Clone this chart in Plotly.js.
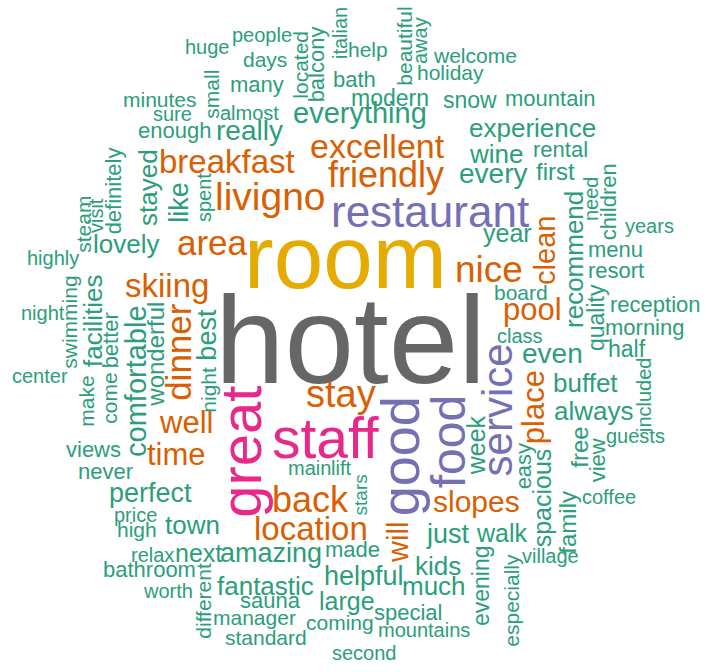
<!DOCTYPE html>
<html>
<head>
<meta charset="utf-8">
<script src="https://cdn.plot.ly/plotly-3.0.1.min.js"></script>
<style>html,body{margin:0;padding:0;background:#fff;}#chart{width:708px;height:672px;}</style>
</head>
<body>
<div id="chart"></div>
<script>
// Horizontal words: word, weight (font px), anchor x (centre), anchor y (baseline), colour group
var hWords   = ["hotel","room","restaurant","staff","stay","excellent","breakfast","friendly","livigno","area","nice","skiing","pool","well","time","back","location","slopes","everything","really","experience","wine","rental","every","first","year","years","menu","resort","board","reception","morning","class","half","even","buffet","always","guests","coffee","village","walk","just","kids","much","helpful","made","amazing","fantastic","large","sauna","special","manager","coming","mountains","standard","second","main","lift","perfect","price","high","town","relax","next","bathroom","worth","views","never","center","night","highly","lovely","huge","people","days","many","help","welcome","holiday","bath","modern","snow","mountain","minutes","sure","almost","enough"];
var hWeights = [125,89,44,57,38,34,33,36,39,35,37,33,31,31,31,36,33,30,29,28,26,26,22,28,24,25,20,22,22,21,22,22,20,23,28,26,26,20,20,20,25,27,26,26,27,22,27,26,25,22,22,21,21,20,21,20,20,20,27,20,21,26,20,25,22,20,22,22,20,20,20,26,20,20,21,22,21,21,21,22,23,23,22,21,20,20,22];
var hX       = [350,345,430,325,341,377,227,386,270,212,489,167,532,186,176,310,311,476,360,249,532,496,560,493,555,507,649,615,616,521,655,644,520,627,552,585,593,635,609,550,502,448,438,434,364,352,271,265,347,270,408,254,340,424,266,364,309,341,150,135,137,192,152,198,149,168,93,105,40,43,53,126,207,262,265,257,368,475,450,354,390,470,550,160,172,249,174];
var hY       = [383,288,227,458,407,158,173,187,210,255,282,297,320,433,465,512,540,512,123,140,137,163,157,183,180,242,233,257,278,300,312,335,343,357,363,392,420,443,504,563,542,543,575,595,585,557,562,595,610,608,620,625,630,637,645,660,475,475,502,522,537,534,562,562,577,598,457,479,383,320,265,253,54,42,67,92,57,63,80,87,106,108,106,107,121,120,138];
var hGroup   = [0,1,2,3,4,4,4,4,4,4,4,4,4,4,4,4,4,4,5,5,5,5,5,5,5,5,5,5,5,5,5,5,5,5,5,5,5,5,5,5,5,5,5,5,5,5,5,5,5,5,5,5,5,5,5,5,5,5,5,5,5,5,5,5,5,5,5,5,5,5,5,5,5,5,5,5,5,5,5,5,5,5,5,5,5,5,5];

// Vertical words (read bottom to top): word, weight, anchor x (baseline), anchor y (centre), colour group
var vWords   = ["great","good","food","service","place","clean","dinner","will","recommend","need","children","quality","included","week","free","view","easy","spacious","family","evening","especially","stars","different","swimming","facilities","make","come","better","comfortable","wonderful","best","night","definitely","visit","steam","stayed","like","spent","small","located","balcony","italian","beautiful","away"];
var vWeights = [58,54,48,42,31,29,35,29,26,20,22,23,20,25,24,22,22,25,24,23,21,19,21,21,26,21,21,22,29,24,27,21,22,20,21,26,27,20,21,21,22,20,21,20];
var vX       = [260,419,465,512,544,555,190,408,583,598,616,604,651,485,587,605,531,551,575,489,518,367,210,76,102,93,116,118,146,163,216,215,121,103,90,157,188,211,218,307,324,347,411,427];
var vY       = [452,456,442,410,407,250,352,542,259,199,202,318,395,445,447,460,466,498,522,586,600,495,601,322,321,401,398,340,381,354,335,390,191,216,224,187,202,198,94,65,64,33,46,41];
var vGroup   = [3,2,2,2,4,4,4,4,5,5,5,5,5,5,5,5,5,5,5,5,5,5,5,5,5,5,5,5,5,5,5,5,5,5,5,5,5,5,5,5,5,5,5,5];

var palette = ["#666666","#E6AB02","#7570B3","#E7298A","#D95F02","#2B9E7B"];
var FONT = "Liberation Sans, Arial, Helvetica, sans-serif";
var DROP = 0.347; // distance from baseline to middle of the text box, in em

var annotations = [];
hWords.forEach(function(w, i){
  var s = hWeights[i];
  annotations.push({x: hX[i], y: hY[i] - DROP*s, xref:"x", yref:"y", text: w, showarrow:false,
    xanchor:"center", yanchor:"middle", borderpad:0,
    font:{family:FONT, size:s, color:palette[hGroup[i]]}});
});
vWords.forEach(function(w, i){
  var s = vWeights[i];
  annotations.push({x: vX[i] - DROP*s, y: vY[i], xref:"x", yref:"y", text: w, showarrow:false,
    xanchor:"center", yanchor:"middle", textangle:-90, borderpad:0,
    font:{family:FONT, size:s, color:palette[vGroup[i]]}});
});

var layout = {
  width:708, height:672,
  margin:{l:0,r:0,t:0,b:0},
  paper_bgcolor:"#ffffff", plot_bgcolor:"#ffffff",
  xaxis:{range:[0,708], visible:false, fixedrange:true},
  yaxis:{range:[672,0], visible:false, fixedrange:true},
  showlegend:false,
  annotations: annotations
};
Plotly.newPlot("chart", [{x:[], y:[], type:"scatter", mode:"markers", hoverinfo:"skip"}], layout, {staticPlot:true, displayModeBar:false});
</script>
</body>
</html>
